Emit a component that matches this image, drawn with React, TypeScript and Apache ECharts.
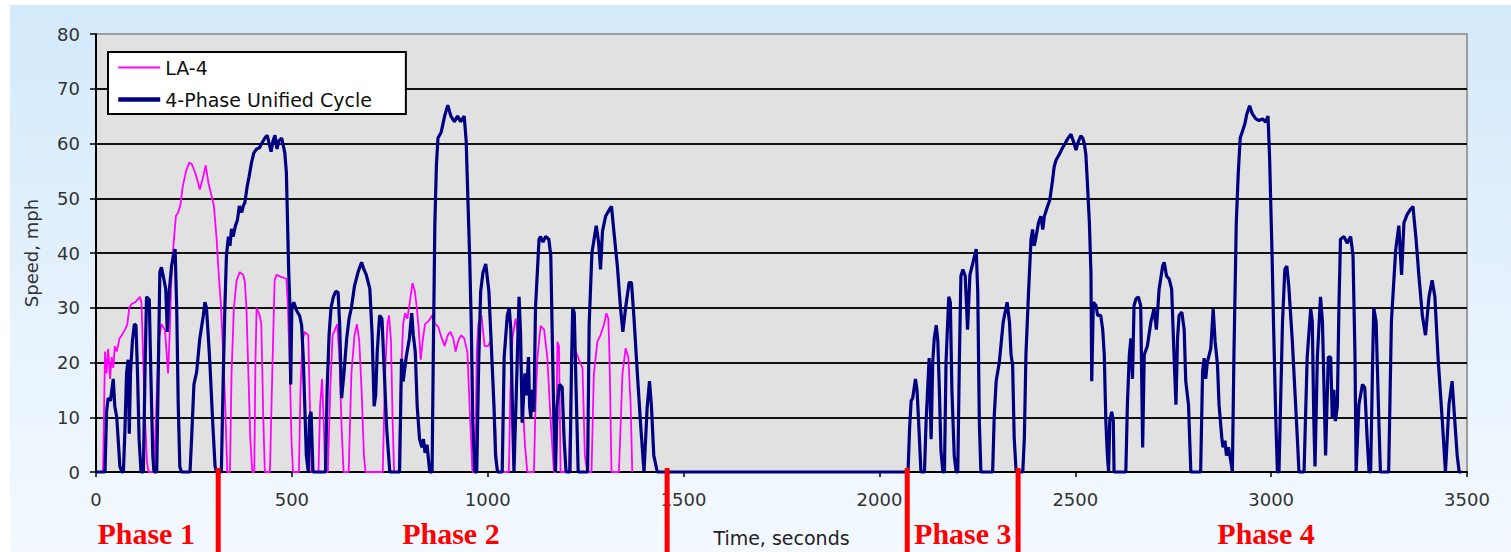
import React, { useEffect, useRef } from "react";
import * as echarts from "echarts";

// LA-4 speed trace: [time (s), speed (mph)]
const la4: [number, number][] = [
  [0, 0], [18, 0], [23, 22], [27, 18], [31, 22.5], [36, 17], [40, 21], [44, 19], [48, 23], [53, 22], [60, 24.4], [66, 25], [74, 26], [80, 27], [85, 30], [91, 30.7], [100, 31], [108, 31.6], [112, 32], [116, 31], [120, 22], [125, 10], [130, 2], [134, 0],
  [148, 0], [153, 10], [160, 24], [167, 27], [176, 26], [184, 18], [188, 25], [193, 36.5], [197, 40.7], [204, 46.8], [210, 47.4], [216, 49], [221, 52], [230, 55], [238, 56.5], [244, 56.3], [253, 54.7], [258, 53.5], [265, 51.6], [274, 54], [280, 56], [287, 52.8], [295, 50.4], [301, 48.6], [308, 42.5], [313, 36.5], [319, 30.4], [325, 21], [330, 12], [335, 0],
  [342, 0], [346, 18], [352, 30], [359, 35], [367, 36.5], [376, 36], [380, 34.7], [384, 30], [389, 18], [394, 6], [399, 0],
  [404, 0], [407, 20], [410, 30], [418, 28.6], [422, 27], [427, 10], [431, 0],
  [444, 0], [450, 18], [456, 35], [461, 36], [474, 35.6], [486, 35.3], [490, 30], [495, 18], [499, 6], [503, 0],
  [518, 0], [522, 15], [527, 24], [533, 25.6], [542, 25], [546, 12], [550, 0],
  [568, 0], [572, 12], [577, 17], [581, 10], [585, 0],
  [592, 0], [598, 15], [604, 25], [610, 26], [616, 27], [622, 20], [627, 8], [632, 0],
  [645, 0], [652, 18], [660, 25], [666, 27], [672, 24], [678, 15], [684, 3], [688, 0],
  [732, 0], [738, 18], [744, 27], [748, 28.6], [753, 24], [757, 10], [761, 0],
  [773, 0], [778, 16], [784, 27], [789, 29], [795, 28], [801, 31], [808, 34.5], [814, 33], [819, 30], [824, 26], [829, 20.5], [834, 24], [840, 27], [848, 27.5], [858, 28.6], [866, 27], [874, 26.5], [880, 25], [890, 23], [898, 25], [905, 25.6], [912, 24.4], [918, 22], [925, 24], [932, 25], [940, 24.4], [948, 22], [955, 10], [961, 0],
  [968, 0], [972, 22], [976, 27], [984, 28.6], [992, 23], [1001, 23], [1008, 24], [1013, 18], [1018, 10], [1024, 0],
  [1054, 0], [1058, 15], [1063, 24.4], [1071, 28], [1080, 24], [1088, 15], [1095, 5], [1101, 0],
  [1118, 0], [1122, 12], [1127, 21], [1135, 26.7], [1144, 26], [1152, 21], [1161, 9], [1169, 0],
  [1174, 0], [1178, 23.8], [1182, 23], [1186, 0],
  [1207, 0], [1212, 14], [1216, 21], [1225, 22], [1233, 20.5], [1242, 19], [1248, 3], [1254, 0],
  [1265, 0], [1271, 18], [1280, 23.8], [1288, 25], [1297, 27], [1303, 29], [1308, 28], [1311, 21], [1316, 0],
  [1335, 0], [1340, 10], [1344, 18], [1352, 22.6], [1359, 21], [1365, 12], [1369, 0],
];

// 4-Phase Unified Cycle, phases 1-2 (cold start) and soak
const unifiedPhases12: [number, number][] = [
  [0, 0], [23, 0], [27, 11], [31, 13.5], [37, 13], [44, 17], [48, 12], [53, 10], [61, 1], [66, 0],
  [70, 0], [74, 8], [78, 18], [82, 20.5], [85, 7], [88, 18], [93, 24], [98, 27], [102, 26.8], [106, 18], [110, 6], [115, 0],
  [121, 0], [125, 18], [129, 32], [136, 31.5], [140, 18], [145, 3], [148, 0],
  [155, 0], [159, 18], [163, 36.5], [167, 37.4], [173, 35.3], [178, 33.5], [182, 25.6], [187, 33], [193, 37.7], [199, 40], [202, 40.7], [206, 30], [210, 12], [214, 1], [218, 0],
  [240, 0], [244, 6], [250, 16], [257, 18.3], [265, 24.4], [274, 28.6], [278, 31], [282, 30], [287, 24.4], [291, 19.5], [298, 9], [304, 1], [308, 0],
  [320, 0], [325, 18], [329, 30], [333, 39.5], [338, 43], [342, 41.3], [346, 44.4], [350, 43], [356, 45], [361, 46], [366, 48.6], [372, 47.4], [376, 48.6], [380, 49.2], [386, 52.2], [391, 54], [397, 56.5], [403, 58.3], [410, 59], [417, 59.2], [423, 60], [431, 61], [437, 61.5], [442, 60], [447, 58.5], [452, 60.5], [457, 61.5], [462, 59], [467, 60.5], [474, 61], [482, 58.3], [486, 54.7], [489, 45.6], [492, 36.5], [495, 30.4], [497, 16], [500, 30], [505, 31], [512, 29.5], [520, 28.5], [525, 26.8], [529, 21], [533, 12], [537, 3], [542, 0], [545, 10], [549, 11], [554, 0],
  [586, 0], [590, 15], [595, 25], [600, 30], [606, 32], [612, 33], [618, 32.8], [622, 27], [627, 13.5], [633, 18], [640, 24.4], [646, 28], [652, 30], [660, 34], [669, 36.5], [678, 38.3], [684, 37], [690, 36], [699, 33.5], [705, 25], [710, 12], [714, 14], [718, 22], [724, 28.6], [730, 28], [735, 20], [742, 8], [750, 0],
  [775, 0], [780, 20.7], [784, 16.5], [792, 21], [800, 24.4], [806, 29], [810, 25], [815, 22], [820, 12], [826, 6], [832, 4.5], [836, 6], [840, 3.5], [845, 5], [852, 0],
  [858, 0], [861, 21], [865, 45], [869, 56], [873, 61], [881, 62], [890, 65], [898, 67], [906, 65], [915, 64], [923, 65], [931, 64], [940, 65], [945, 60.5], [950, 48.5], [954, 39], [958, 27], [962, 9], [967, 0],
  [972, 0], [977, 20], [982, 33], [988, 36.5], [995, 38], [1003, 33], [1008, 25], [1016, 12], [1020, 3], [1025, 0],
  [1037, 0], [1042, 21], [1050, 28.6], [1055, 30], [1059, 26], [1063, 12], [1067, 0],
  [1072, 12], [1080, 32], [1084, 25], [1088, 9], [1095, 18], [1099, 14], [1104, 21], [1107, 12], [1110, 10], [1114, 15], [1118, 11],
  [1122, 30], [1131, 42.5], [1135, 43], [1141, 42], [1148, 43], [1156, 42.5], [1161, 39.5], [1165, 24], [1169, 9], [1173, 0],
  [1177, 12], [1183, 16], [1190, 15.5], [1195, 6], [1200, 0],
  [1210, 0], [1214, 20], [1217, 30], [1221, 29], [1226, 14], [1231, 0],
  [1255, 0], [1259, 27], [1266, 40], [1277, 45], [1283, 42], [1288, 37], [1293, 44], [1301, 46.7], [1311, 48], [1316, 48.5], [1322, 44], [1331, 37.6], [1339, 30], [1345, 25.6], [1352, 30], [1361, 34.6], [1367, 34.6], [1373, 28.6], [1382, 18], [1390, 9], [1399, 0],
  [1407, 11.7], [1413, 16.6], [1418, 12], [1424, 3], [1433, 0], [2073, 0],
];

// 4-Phase Unified Cycle, phases 3-4 (hot start)
const unifiedPhases34: [number, number][] = [
  [2077, 8], [2081, 13], [2085, 13.5], [2092, 17], [2096, 15], [2100, 9.3], [2106, 0],
  [2115, 0], [2119, 9], [2123, 15], [2127, 20.8], [2132, 6], [2136, 20], [2140, 24.4], [2145, 26.8], [2149, 24], [2153, 15], [2157, 4], [2162, 0],
  [2166, 0], [2170, 20], [2177, 32], [2181, 31], [2185, 15], [2191, 3], [2196, 0],
  [2200, 0], [2204, 20], [2208, 35.8], [2213, 37], [2219, 35.8], [2225, 26], [2231, 36], [2238, 38], [2247, 40.7], [2251, 33], [2255, 9.3], [2259, 0],
  [2289, 0], [2293, 10], [2298, 16.6], [2306, 20], [2316, 27.4], [2326, 31], [2332, 27.4], [2336, 21.4], [2340, 19.6], [2344, 6.3], [2349, 0],
  [2366, 0], [2370, 6.3], [2374, 21.4], [2381, 33.4], [2387, 42.5], [2391, 44.3], [2395, 41.3], [2400, 43], [2406, 45.5], [2412, 46.7], [2417, 44.3], [2421, 46.7], [2429, 48.5], [2435, 49.7], [2442, 53.3], [2446, 55.7], [2451, 57], [2459, 58], [2468, 59.3], [2474, 60], [2480, 60.8], [2489, 61.7], [2497, 60], [2502, 58.8], [2506, 60], [2514, 61.4], [2519, 61], [2523, 60], [2527, 58], [2531, 52.7], [2536, 45.5], [2540, 36.4], [2542, 16.6], [2546, 31], [2553, 30.4], [2557, 28.6], [2565, 28.6], [2570, 26], [2574, 21.4], [2578, 9.3], [2582, 3], [2585, 0], [2588, 9.3], [2593, 11], [2597, 9.3], [2599, 0],
  [2629, 0], [2633, 12.3], [2638, 21.4], [2642, 24.4], [2646, 17], [2650, 30.4], [2655, 31.6], [2661, 32], [2667, 30.4], [2672, 4.5], [2676, 21.4], [2684, 23], [2693, 27.4], [2701, 29.8], [2707, 26], [2714, 33.4], [2723, 37.6], [2727, 38.3], [2733, 35.8], [2740, 35.2], [2746, 33.4], [2752, 21.4], [2757, 12.3], [2761, 24.4], [2765, 28.6], [2772, 29.2], [2778, 26], [2782, 16.6], [2789, 12.3], [2795, 0],
  [2820, 0], [2825, 18.4], [2829, 20.8], [2833, 17], [2837, 20], [2846, 22.6], [2852, 29.8], [2857, 23.8], [2863, 19.6], [2867, 12.3], [2874, 6.3], [2877, 4.5], [2882, 5.7], [2886, 3], [2891, 4.5], [2897, 2], [2901, 0],
  [2905, 21.4], [2911, 45.5], [2916, 54.5], [2921, 61], [2927, 62.3], [2933, 63.6], [2938, 65.4], [2945, 66.9], [2952, 65.4], [2961, 64.5], [2969, 64.2], [2978, 64.5], [2986, 63.9], [2992, 65], [2996, 57.5], [3002, 40.7], [3006, 27.4], [3012, 9.3], [3016, 0],
  [3020, 0], [3029, 27.4], [3035, 37], [3040, 37.6], [3045, 34], [3054, 24], [3067, 6], [3071, 0],
  [3084, 0], [3092, 21], [3101, 29.8], [3105, 27.5], [3109, 9.3], [3112, 1], [3118, 21], [3126, 32], [3131, 27.4], [3139, 3], [3146, 21], [3152, 21], [3156, 10], [3160, 15], [3164, 9.3], [3169, 12],
  [3173, 30], [3177, 42.5], [3186, 43], [3194, 41.8], [3203, 43], [3209, 39.5], [3214, 21.4], [3217, 0],
  [3224, 12.3], [3233, 16], [3239, 15.4], [3245, 6.3], [3250, 0],
  [3254, 0], [3259, 20], [3262, 30], [3268, 27.4], [3275, 9.3], [3279, 0],
  [3300, 0], [3307, 27.5], [3318, 40.6], [3326, 45], [3333, 36], [3339, 45.5], [3347, 47], [3356, 48], [3362, 48.5], [3370, 42.5], [3377, 36], [3386, 28.6], [3394, 25], [3403, 32], [3411, 35], [3418, 32], [3426, 21], [3437, 9.3], [3445, 0],
  [3454, 12.3], [3462, 16.6], [3466, 12.3], [3475, 3], [3480, 0], [3486, 0],
];

// Phase annotation: boundaries (s) and label centres (s)
const phaseBoundaries = [312, 1458, 2071, 2354];
const phaseLabels = ["Phase 1", "Phase 2", "Phase 3", "Phase 4"];
const phaseLabelCenters = [128, 906, 2213, 2987];

const FONT = '"DejaVu Sans", sans-serif';

export default function App() {
  const ref = useRef<HTMLDivElement>(null);

  useEffect(() => {
    if (!ref.current) return;
    const chart = echarts.init(ref.current, null, { renderer: "svg" });
    chart.setOption({
      animation: false,
      grid: {
        left: 96,
        right: 44,
        top: 34,
        bottom: 78,
        show: true,
        backgroundColor: "#e1e1e1",
        borderColor: "#9c9c9c",
        borderWidth: 2,
      },
      legend: {
        orient: "vertical",
        left: 108,
        top: 52,
        backgroundColor: "#ffffff",
        borderColor: "#000000",
        borderWidth: 2,
        borderRadius: 0,
        padding: [6, 34, 5, 8],
        itemWidth: 42,
        itemHeight: 14,
        itemGap: 13,
        itemStyle: { opacity: 0, color: "rgba(0,0,0,0)", borderColor: "rgba(0,0,0,0)", borderWidth: 0 },
        textStyle: { fontFamily: FONT, fontSize: 19, color: "#111" },
        data: [
          { name: "LA-4", lineStyle: { width: 2 } },
          { name: "4-Phase Unified Cycle", lineStyle: { width: 4.5 } },
        ],
      },
      xAxis: {
        type: "value",
        min: 0,
        max: 3500,
        interval: 500,
        name: "Time, seconds",
        nameLocation: "middle",
        nameGap: 56,
        nameTextStyle: { fontFamily: FONT, fontSize: 19, color: "#222" },
        axisLine: { show: true, onZero: false, lineStyle: { color: "#000", width: 2 } },
        axisTick: { show: true, length: 5, lineStyle: { color: "#000", width: 1.5 } },
        axisLabel: {
          margin: 18,
          fontFamily: FONT,
          fontSize: 18,
          color: "#333",
          formatter: (v: number) => String(v),
        },
        splitLine: { show: false },
      },
      yAxis: {
        type: "value",
        min: 0,
        max: 80,
        interval: 10,
        name: "Speed, mph",
        nameLocation: "middle",
        nameGap: 56,
        nameRotate: 90,
        nameTextStyle: { fontFamily: FONT, fontSize: 18, color: "#333" },
        axisLine: { show: true, lineStyle: { color: "#000", width: 2 } },
        axisTick: { show: true, length: 6, lineStyle: { color: "#000", width: 1.5 } },
        axisLabel: { margin: 16, fontFamily: FONT, fontSize: 18, color: "#333", formatter: (v: number) => String(v) },
        splitLine: { show: true, showMaxLine: false, lineStyle: { color: "#111", width: 2 } },
      },
      series: [
        {
          name: "LA-4",
          type: "line",
          data: la4,
          symbol: "none",
          showSymbol: false,
          clip: false,
          lineStyle: { color: "#ff00ff", width: 1.8 },
          itemStyle: { color: "#ff00ff" },
          z: 3,
        },
        {
          name: "4-Phase Unified Cycle",
          type: "line",
          data: [...unifiedPhases12, ...unifiedPhases34],
          symbol: "none",
          showSymbol: false,
          clip: false,
          lineStyle: { color: "#000080", width: 3.2 },
          itemStyle: { color: "#000080" },
          z: 4,
        },
      ],
    });

    const toX = (t: number) => (chart.convertToPixel({ gridIndex: 0 }, [t, 0]) as number[])[0];
    const axisY = (chart.convertToPixel({ gridIndex: 0 }, [0, 0]) as number[])[1];
    const graphics: any[] = [];
    phaseBoundaries.forEach((t) => {
      graphics.push({
        type: "rect",
        z: 100,
        silent: true,
        shape: { x: toX(t) - 2.5, y: axisY - 4, width: 5, height: 552 - axisY + 4 },
        style: { fill: "#ff0000" },
      });
    });
    phaseLabels.forEach((label, i) => {
      graphics.push({
        type: "text",
        z: 100,
        silent: true,
        x: toX(phaseLabelCenters[i]),
        y: 533,
        style: {
          text: label,
          fill: "#ff0000",
          font: 'bold 30px "Liberation Serif", "Times New Roman", serif',
          textAlign: "center",
          textVerticalAlign: "middle",
        },
      });
    });
    chart.setOption({ graphic: graphics });

    return () => chart.dispose();
  }, []);

  return (
    <div style={{ position: "absolute", left: 0, top: 0, width: 1511, height: 552, background: "#ffffff" }}>
      <div
        style={{
          position: "absolute",
          left: 10,
          top: 5,
          right: 0,
          bottom: 0,
          background: "linear-gradient(180deg, #d3eafb 0%, #e4f1fc 50%, #f3f9fe 100%)",
        }}
      />
      <div ref={ref} style={{ position: "absolute", left: 0, top: 0, width: 1511, height: 552 }} />
    </div>
  );
}
